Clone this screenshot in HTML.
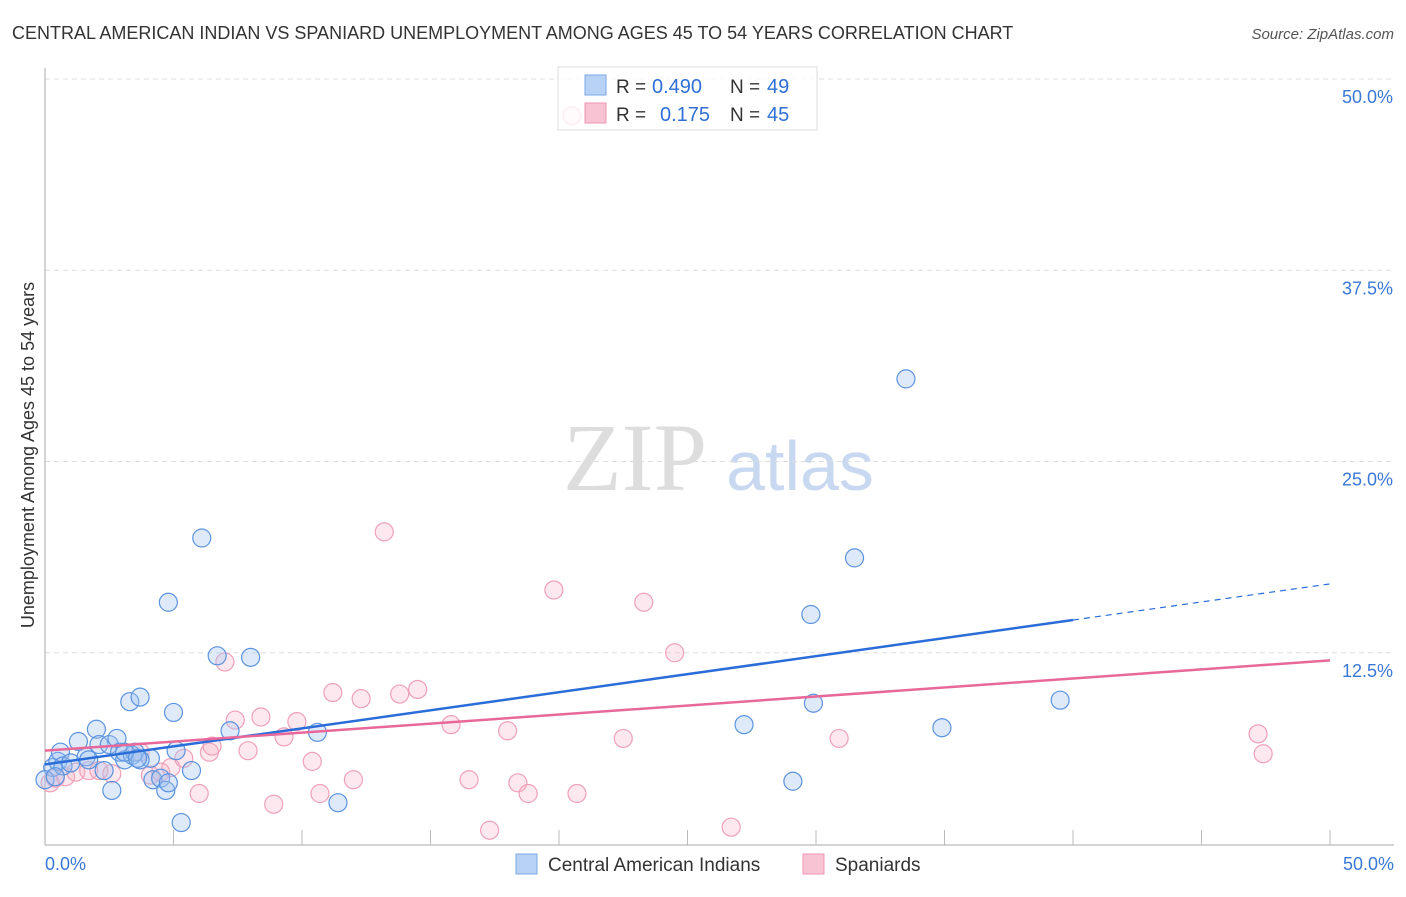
<!DOCTYPE html>
<html><head><meta charset="utf-8"><style>
body{margin:0;background:#fff;font-family:"Liberation Sans",sans-serif;}
</style></head><body>
<svg id="c" width="1406" height="892" xmlns="http://www.w3.org/2000/svg">
<text x="12" y="39" font-size="18" fill="#333">CENTRAL AMERICAN INDIAN VS SPANIARD UNEMPLOYMENT AMONG AGES 45 TO 54 YEARS CORRELATION CHART</text>
<text x="1394" y="39" font-size="15" fill="#555" font-style="italic" text-anchor="end">Source: ZipAtlas.com</text>
<text x="34" y="455" font-size="18" fill="#333" text-anchor="middle" transform="rotate(-90 34 455)">Unemployment Among Ages 45 to 54 years</text>
<text x="635" y="490" font-size="96" fill="#ddd" font-family="Liberation Serif,serif" text-anchor="middle">ZIP</text>
<text x="800" y="490" font-size="70" fill="#c8d8f0" text-anchor="middle">atlas</text>
<g id="grid"></g><g id="pts"></g><g id="lines"></g>
<g>
<rect x="558" y="67" width="259" height="63" fill="rgba(255,255,255,0.8)" stroke="#ddd"/>
<rect x="585" y="75" width="21" height="20" fill="#b8d2f5" stroke="#7aa8e6"/>
<rect x="585" y="103" width="21" height="20" fill="#f8c4d4" stroke="#ee94b0"/>
<text x="616" y="93" font-size="19" fill="#333">R =</text>
<text x="652" y="93" font-size="20" fill="#2f6fd6">0.490</text>
<text x="730" y="93" font-size="19" fill="#333">N =</text>
<text x="767" y="93" font-size="20" fill="#2f6fd6">49</text>
<text x="616" y="121" font-size="19" fill="#333">R =</text>
<text x="660" y="121" font-size="20" fill="#2f6fd6">0.175</text>
<text x="730" y="121" font-size="19" fill="#333">N =</text>
<text x="767" y="121" font-size="20" fill="#2f6fd6">45</text>
</g>
<g>
<rect x="516" y="854" width="21" height="20" fill="#b8d2f5" stroke="#7aa8e6"/>
<text x="548" y="871" font-size="19" fill="#333">Central American Indians</text>
<rect x="803" y="854" width="21" height="20" fill="#f8c4d4" stroke="#ee94b0"/>
<text x="835" y="871" font-size="19" fill="#333">Spaniards</text>
</g>
</svg>
<script>
const yTicks=[12.5,25,37.5,50];
const yTickLabels=["12.5%","25.0%","37.5%","50.0%"];
const xTickLabels=["0.0%","50.0%"];
const blueX=[0.3,0.5,0.6,0.7,1.0,1.3,1.6,2.0,2.1,2.3,2.5,2.6,2.8,2.9,3.1,3.3,3.4,3.5,3.7,4.1,4.2,4.5,4.7,4.8,5.0,5.1,5.7,5.3,6.1,6.7,7.2,8.0,10.6,11.4,27.2,29.1,29.8,29.9,31.5,33.5,34.9,39.5,0.0,0.4,3.7,1.7,4.8,3.1,3.6];
const blueY=[5.0,5.4,6.0,5.1,5.3,6.7,5.7,7.5,6.5,4.8,6.5,3.5,6.9,6.0,5.5,9.3,5.8,6.0,9.6,5.6,4.2,4.3,3.5,15.8,8.6,6.1,4.8,1.4,20.0,12.3,7.4,12.2,7.3,2.7,7.8,4.1,15.0,9.2,18.7,30.4,7.6,9.4,4.2,4.4,5.5,5.5,4.0,6.0,5.6];
const pX=[0.2,0.4,0.8,1.2,1.7,2.1,2.6,3.7,4.1,4.5,4.9,5.4,6.0,6.4,6.5,7.0,7.4,7.9,8.4,8.9,9.3,9.8,10.4,10.7,11.2,12.0,12.3,13.2,13.8,14.5,15.8,16.5,17.3,18.0,18.4,18.8,19.8,20.7,22.5,23.3,24.5,26.7,30.9,47.2,47.4,20.5];
const pY=[4.0,4.3,4.4,4.7,4.8,4.8,4.6,6.0,4.5,4.7,5.0,5.6,3.3,6.0,6.4,11.9,8.1,6.1,8.3,2.6,7.0,8.0,5.4,3.3,9.9,4.2,9.5,20.4,9.8,10.1,7.8,4.2,0.9,7.4,4.0,3.3,16.6,3.3,6.9,15.8,12.5,1.1,6.9,7.2,5.9,47.6];
const blueTrend=[5.2,17.0];
const pinkTrend=[6.1,12.0];
const X=v=>45+v*25.7, Y=v=>844-v*15.3;
const NS="http://www.w3.org/2000/svg";
function mk(t,a,p){const e=document.createElementNS(NS,t);for(const k in a)e.setAttribute(k,a[k]);p.appendChild(e);return e;}
const g=document.getElementById('grid');
yTicks.forEach((t,i)=>{
const l=mk('line',{x1:45,x2:1394,y1:Y(t),y2:Y(t),stroke:'#ddd','stroke-dasharray':'5,4'},g);


const tx=mk('text',{x:1393,y:Y(t)+24,'font-size':18,fill:'#3a78d6','text-anchor':'end'},g);tx.textContent=yTickLabels[i];


});
mk('line',{x1:45,x2:45,y1:68,y2:845,stroke:'#aaa'},g);
mk('line',{x1:45,x2:1394,y1:845,y2:845,stroke:'#aaa'},g);
for(let i=1;i<=10;i++){mk('line',{x1:X(i*5),x2:X(i*5),y1:830,y2:845,stroke:'#bbb'},g);}
[[0,45,'start'],[1,1394,'end']].forEach(([i,x,a])=>{const t=mk('text',{x:x,y:870,'font-size':18,fill:'#3a78d6','text-anchor':a},g);t.textContent=xTickLabels[i];

});
const P=document.getElementById('pts');
pX.forEach((v,i)=>{const e=mk('circle',{cx:X(v),cy:Y(pY[i]),r:9,fill:'rgba(246,180,200,0.3)',stroke:'#f0a0b8','stroke-width':1.2},P);

});
blueX.forEach((v,i)=>{const e=mk('circle',{cx:X(v),cy:Y(blueY[i]),r:9,fill:'rgba(160,195,240,0.35)',stroke:'#5b93df','stroke-width':1.2},P);

});
const L=document.getElementById('lines');
const bAt=x=>blueTrend[0]+(blueTrend[1]-blueTrend[0])*x/50;
let b1=mk('line',{x1:X(0),y1:Y(bAt(0)),x2:X(40),y2:Y(bAt(40)),stroke:'#2a6dd9','stroke-width':2.5},L);


let b2=mk('line',{x1:X(40),y1:Y(bAt(40)),x2:X(50),y2:Y(bAt(50)),stroke:'#2a6dd9','stroke-width':1.2,'stroke-dasharray':'6,5'},L);


let p1=mk('line',{x1:X(0),y1:Y(pinkTrend[0]),x2:X(50),y2:Y(pinkTrend[1]),stroke:'#e8689a','stroke-width':2.5},L);


</script>
</body></html>
